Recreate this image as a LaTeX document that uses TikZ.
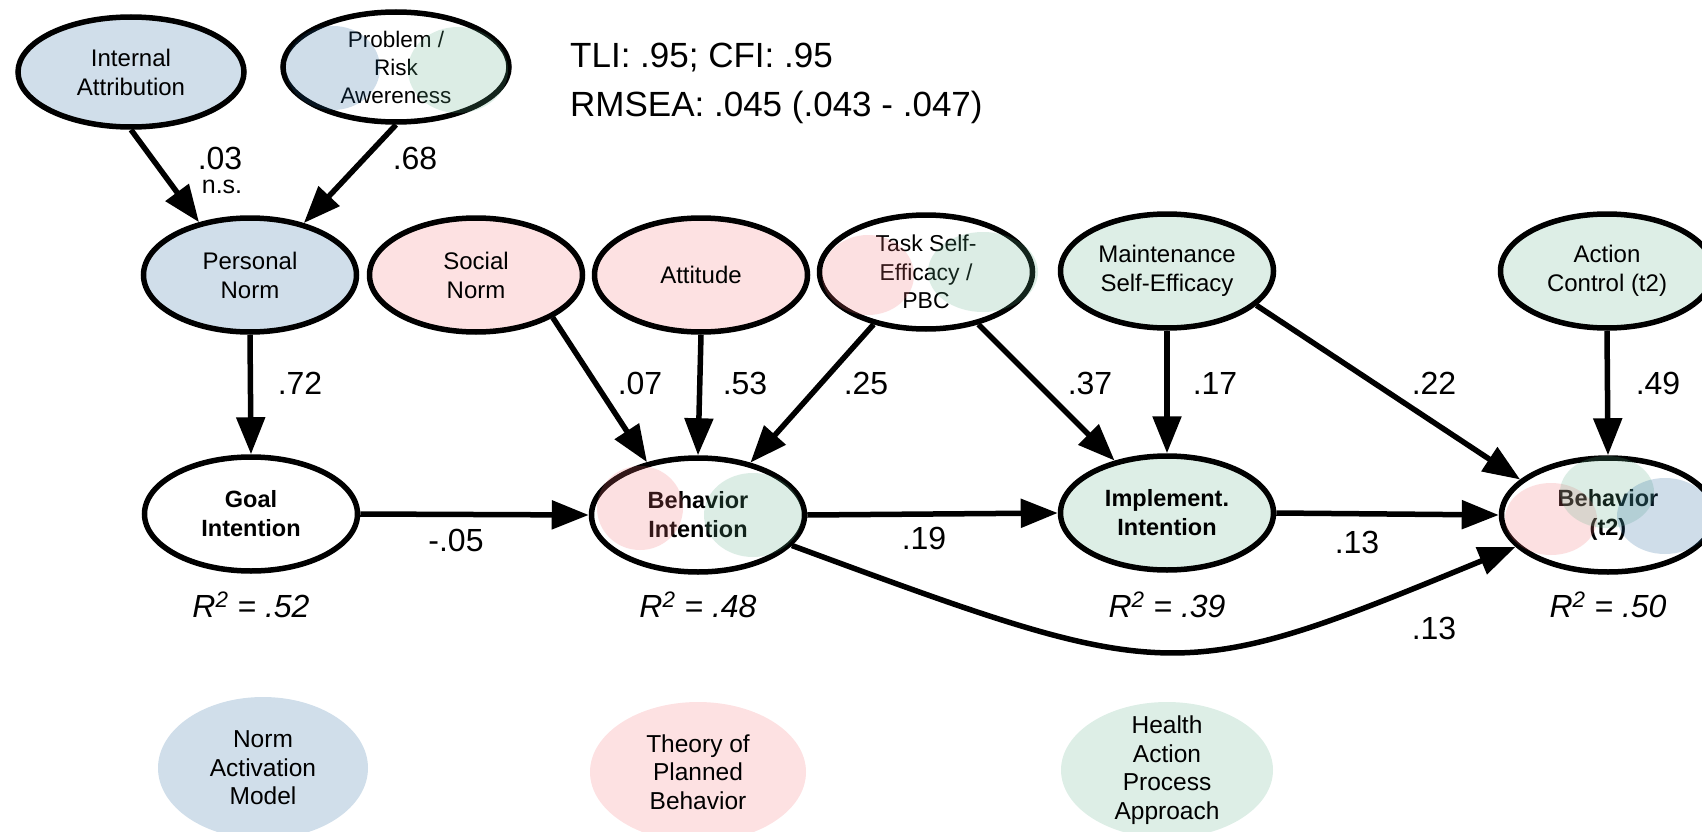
\documentclass[tikz,border=0pt]{standalone}
\usepackage{fontspec}
\setmainfont{Liberation Sans}
\usetikzlibrary{shapes.geometric,arrows.meta}
\definecolor{nampale}{RGB}{208,222,234}
\definecolor{tpbpale}{RGB}{253,225,226}
\definecolor{hapapale}{RGB}{221,238,230}
\definecolor{namdeep}{RGB}{31,98,155}
\definecolor{tpbdeep}{RGB}{245,112,117}
\definecolor{hapadeep}{RGB}{93,174,136}
\begin{document}
\begin{tikzpicture}[x=1pt,y=-1pt,
  lat/.style={ellipse, draw, line width=5.5pt, minimum width=213pt, minimum height=114pt,
    inner sep=0pt, align=center, font=\fontsize{24}{29}\selectfont},
  latb/.style={lat, font=\fontsize{23.5}{29}\selectfont\bfseries},
  arr/.style={line width=5.5pt, -{Triangle[length=37pt,width=28pt]}},
  coef/.style={font=\fontsize{32}{36}\selectfont, inner sep=0pt},
  rsq/.style={font=\fontsize{32}{36}\selectfont\itshape, inner sep=0pt, anchor=base},
  legtxt/.style={inner sep=0pt, align=center, font=\fontsize{24.5}{28.5}\selectfont},
  tint/.style={fill opacity=0.21},
]
\useasboundingbox (0,0) rectangle (1702,832);

% fit indices
\node[anchor=base west, inner sep=0pt, font=\fontsize{35}{49}\selectfont] (fit1) at (570,68) {TLI: .95; CFI: .95};
\node[anchor=base west, inner sep=0pt, font=\fontsize{35}{49}\selectfont] (fit2) at (570,117) {RMSEA: .045 (.043 - .047)};

% latent variables
\node[lat, fill=nampale, minimum width=226pt, minimum height=110pt] (ia) at (131,72) {Internal\\Attribution};
\node[lat, fill=white, minimum width=226pt, minimum height=110pt, font=\fontsize{22.5}{28}\selectfont] (prob) at (396,67) {Problem /\\Risk\\Awereness};
\node[lat, fill=nampale] (pn) at (250,275) {Personal\\Norm};
\node[lat, fill=tpbpale] (sn) at (476,275) {Social\\Norm};
\node[lat, fill=tpbpale] (att) at (701,275) {Attitude};
\node[lat, fill=white, font=\fontsize{23}{28.5}\selectfont] (task) at (926,272) {Task Self-\\Efficacy /\\PBC};
\node[lat, fill=hapapale] (mse) at (1167,271) {Maintenance\\Self-Efficacy};
\node[lat, fill=hapapale] (ac) at (1607,271) {Action\\Control (t2)};
\node[latb, fill=white] (gi) at (251,514) {Goal\\Intention};
\node[latb, fill=white] (bi) at (698,515) {Behavior\\Intention};
\node[latb, fill=hapapale] (ii) at (1167,513) {Implement.\\Intention};
\node[latb, fill=white] (beh) at (1608,515) {Behavior\\(t2)};

% mixed-theory tints
\fill[namdeep, tint] (333,68) ellipse [x radius=47pt, y radius=42pt];
\fill[hapadeep, tint] (458,70) ellipse [x radius=50pt, y radius=43pt];
\fill[tpbdeep, tint] (868,275) ellipse [x radius=46pt, y radius=40pt];
\fill[hapadeep, tint] (983,272) ellipse [x radius=55pt, y radius=40pt];
\fill[tpbdeep, tint] (640,508) ellipse [x radius=43pt, y radius=42pt];
\fill[hapadeep, tint] (753,515) ellipse [x radius=49pt, y radius=42pt];
\fill[tpbdeep, tint] (1551,519) ellipse [x radius=46pt, y radius=36pt];
\fill[hapadeep, tint] (1607,492) ellipse [x radius=47pt, y radius=36pt];
\fill[namdeep, tint] (1665,516) ellipse [x radius=48pt, y radius=38pt];

% paths
\draw[arr] (ia.south) -- (pn.134);
\draw[arr] (prob.south) -- (pn.44);
\draw[arr] (pn.south) -- (gi.north);
\draw[arr] (sn.331) -- (bi.134);
\draw[arr] (att.south) -- (bi.north);
\draw[arr] (task.225) -- (bi.45);
\draw[arr] (task.315) -- (ii.135);
\draw[arr] (mse.south) -- (ii.north);
\draw[arr] (mse.339) -- (beh.158);
\draw[arr] (ac.south) -- (beh.north);
\draw[arr] (gi.east) -- (bi.west);
\draw[arr] (bi.east) -- (ii.west);
\draw[arr] (ii.east) -- (beh.west);
\draw[arr] (bi.342) .. controls +(380,140) and +(-340,140) .. (beh.199);

% coefficients
\node[coef] (c1) at (220,158) {.03};
\node[inner sep=0pt, font=\fontsize{25}{28}\selectfont] (c1ns) at (222,187) {n.s.};
\node[coef] (c2) at (415,158) {.68};
\node[coef] (c3) at (300,383) {.72};
\node[coef] (c4) at (640,383) {.07};
\node[coef] (c5) at (745,383) {.53};
\node[coef] (c6) at (866,383) {.25};
\node[coef] (c7) at (1090,383) {.37};
\node[coef] (c8) at (1215,383) {.17};
\node[coef] (c9) at (1434,383) {.22};
\node[coef] (c10) at (1658,383) {.49};
\node[coef] (c11) at (456,540) {-.05};
\node[coef] (c12) at (924,538) {.19};
\node[coef] (c13) at (1357,542) {.13};
\node[coef] (c14) at (1434,628) {.13};

% explained variance
\node[rsq] (r1) at (251,617) {R\textsuperscript{2} = .52};
\node[rsq] (r2) at (698,617) {R\textsuperscript{2} = .48};
\node[rsq] (r3) at (1167,617) {R\textsuperscript{2} = .39};
\node[rsq] (r4) at (1608,617) {R\textsuperscript{2} = .50};

% legend
\fill[nampale] (263,768) ellipse [x radius=105pt, y radius=71pt];
\fill[tpbpale] (698,772) ellipse [x radius=108pt, y radius=70pt];
\fill[hapapale] (1167,770) ellipse [x radius=106pt, y radius=68pt];
\node[legtxt] (lnam) at (263,768) {Norm\\Activation\\Model};
\node[legtxt] (ltpb) at (698,772) {Theory of\\Planned\\Behavior};
\node[legtxt] (lhapa) at (1167,770) {Health\\Action\\Process\\Approach};
\end{tikzpicture}
\end{document}
